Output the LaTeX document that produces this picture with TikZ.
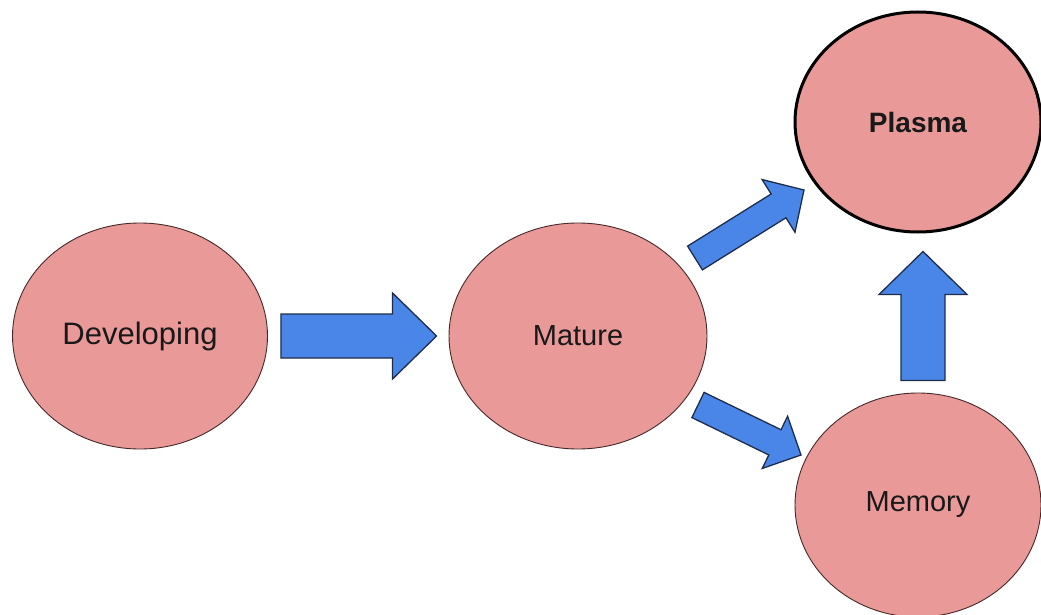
\documentclass[tikz,border=0pt]{standalone}
\usepackage{fontspec}
\setmainfont{Liberation Sans}
\usetikzlibrary{shapes.geometric,calc}

\definecolor{cellpink}{RGB}{234,153,153}
\definecolor{cellline}{RGB}{70,40,40}
\definecolor{arrowblue}{RGB}{74,134,232}
\definecolor{arrowline}{RGB}{30,45,75}

\tikzset{
  cell/.style={ellipse, draw=cellline, line width=0.9pt, fill=cellpink, inner sep=0pt,
    font=\fontsize{29}{34}\selectfont, text=black!90},
  blockarr/.style={draw=arrowline, line width=1.3pt, line join=miter, fill=arrowblue}
}

% block arrow: start, tip, shaft half width, head half width, head length
\newcommand{\blockarrow}[5]{%
  \coordinate (ba-h) at ($(#2)!#5pt!(#1)$);
  \draw[blockarr] ($(#1)!#3pt!90:(#2)$) -- ($(ba-h)!#3pt!90:(#2)$)
    -- ($(ba-h)!#4pt!90:(#2)$) -- (#2) -- ($(ba-h)!#4pt!-90:(#2)$)
    -- ($(ba-h)!#3pt!-90:(#2)$) -- ($(#1)!#3pt!-90:(#2)$) -- cycle;
}

\begin{document}
\begin{tikzpicture}[x=1pt,y=-1pt]

	%Background
	\useasboundingbox[fill=white] (0,0) rectangle (1041,615);

	%Cells
	\node[cell, minimum width=255pt, minimum height=226pt,
	  font=\fontsize{31}{36}\selectfont] (dev) at (140,336) {Developing};
	\node[cell, minimum width=258pt, minimum height=226pt] (mat) at (578,336) {Mature};
	\node[cell, draw=black, line width=3pt, minimum width=246pt, minimum height=220pt,
	  font=\fontsize{28}{33}\selectfont\bfseries] (pla) at (918,122) {Plasma};
	\node[cell, minimum width=246pt, minimum height=224pt] (mem) at (918,505) {Memory};

	%Arrow ends
	\coordinate (dm-s) at ($(dev.east)+(13,0)$);
	\coordinate (dm-t) at ($(mat.west)+(-12,0)$);
	\coordinate (mp-s) at (695,258);
	\coordinate (mp-t) at (804,190);
	\coordinate (mm-s) at (698,405);
	\coordinate (mm-t) at (801,455);
	\coordinate (ep-s) at ($(mem.north)+(5,-12)$);
	\coordinate (ep-t) at ($(pla.south)+(5,18)$);

	%Arrows
	\blockarrow{dm-s}{dm-t}{22}{43}{44}
	\blockarrow{mp-s}{mp-t}{14}{31}{30}
	\blockarrow{mm-s}{mm-t}{14}{29}{29}
	\blockarrow{ep-s}{ep-t}{22}{44}{43}

\end{tikzpicture}
\end{document}
